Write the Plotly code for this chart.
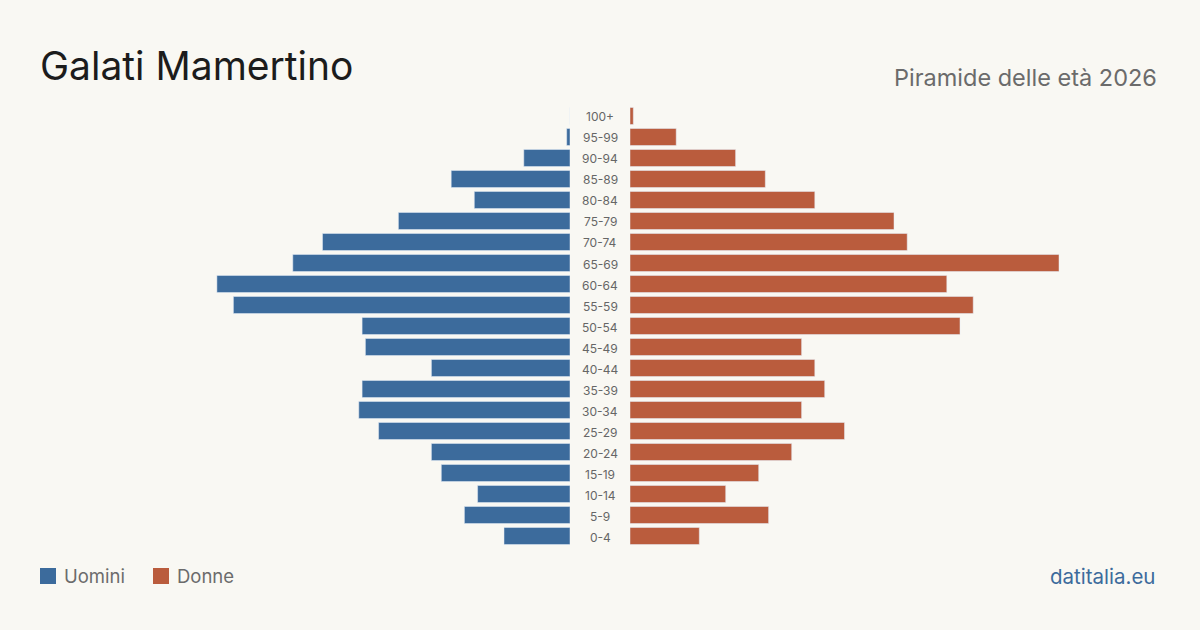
import plotly.graph_objects as go

ages = ["0-4", "5-9", "10-14", "15-19", "20-24", "25-29", "30-34", "35-39", "40-44", "45-49",
        "50-54", "55-59", "60-64", "65-69", "70-74", "75-79", "80-84", "85-89", "90-94", "95-99", "100+"]
uomini = [20, 32, 28, 39, 42, 58, 64, 63, 42, 62, 63, 102, 107, 84, 75, 52, 29, 36, 14, 1, 0]
donne = [21, 42, 29, 39, 49, 65, 52, 59, 56, 52, 100, 104, 96, 130, 84, 80, 56, 41, 32, 14, 1]

title = "Galati Mamertino"
subtitle = "Piramide delle età 2026"
source = "datitalia.eu"

BLUE = "#3c6b9c"
ORANGE = "#ba5c3d"
BG = "#f9f8f3"
W, H = 1200, 630
XMAX = 140
PX = 3.3  # px per person

fig = go.Figure()
fig.add_trace(go.Bar(y=ages, x=uomini, orientation="h", marker_color=BLUE,
                     xaxis="x", yaxis="y", name="Uomini", showlegend=False,
                     hoverinfo="x+y"))
fig.add_trace(go.Bar(y=ages, x=donne, orientation="h", marker_color=ORANGE,
                     xaxis="x2", yaxis="y", name="Donne", showlegend=False,
                     hoverinfo="x+y"))

left_zero = 570
right_zero = 630
span = XMAX * PX

ytop, ybot = 105.5, 546.5

fig.update_layout(
    width=W, height=H,
    margin=dict(l=0, r=0, t=0, b=0),
    paper_bgcolor=BG, plot_bgcolor=BG,
    bargap=0.19,
    xaxis=dict(domain=[(left_zero - span) / W, left_zero / W], range=[XMAX, 0],
               visible=False, fixedrange=True),
    xaxis2=dict(domain=[right_zero / W, (right_zero + span) / W], range=[0, XMAX],
                visible=False, fixedrange=True),
    yaxis=dict(domain=[(H - ybot) / H, (H - ytop) / H], range=[-0.5, len(ages) - 0.5],
               type="category", categoryorder="array", categoryarray=ages,
               visible=False, fixedrange=True),
    font=dict(family="Inter, sans-serif"),
)

annotations = []
for a in ages:
    annotations.append(dict(x=600 / W, y=a, xref="paper", yref="y", text=a,
                            showarrow=False, xanchor="center", yanchor="middle",
                            yshift=-1,
                            font=dict(size=12, color="#666666")))

annotations.append(dict(x=38 / W, y=1 - 66 / H, xref="paper", yref="paper", text=title,
                        showarrow=False, xanchor="left", yanchor="middle",
                        font=dict(size=39, color="#1c1c1c")))
annotations.append(dict(x=1159 / W, y=1 - 77 / H, xref="paper", yref="paper", text=subtitle,
                        showarrow=False, xanchor="right", yanchor="middle",
                        font=dict(size=23.5, color="#6b6b6b")))
annotations.append(dict(x=1157 / W, y=1 - 576 / H, xref="paper", yref="paper", text=source,
                        showarrow=False, xanchor="right", yanchor="middle",
                        font=dict(size=20.5, color=BLUE)))

shapes = []
for x0, col, label in [(40, BLUE, "Uomini"), (153, ORANGE, "Donne")]:
    shapes.append(dict(type="rect", xref="paper", yref="paper",
                       x0=x0 / W, x1=(x0 + 16) / W, y0=1 - 584 / H, y1=1 - 568 / H,
                       fillcolor=col, line=dict(width=0)))
    annotations.append(dict(x=(x0 + 22) / W, y=1 - 576 / H, xref="paper", yref="paper",
                            text=label, showarrow=False, xanchor="left", yanchor="middle",
                            font=dict(size=18.5, color="#6b6b6b")))

fig.update_layout(annotations=annotations, shapes=shapes)
fig.write_html("out.html", config={"displayModeBar": False})
